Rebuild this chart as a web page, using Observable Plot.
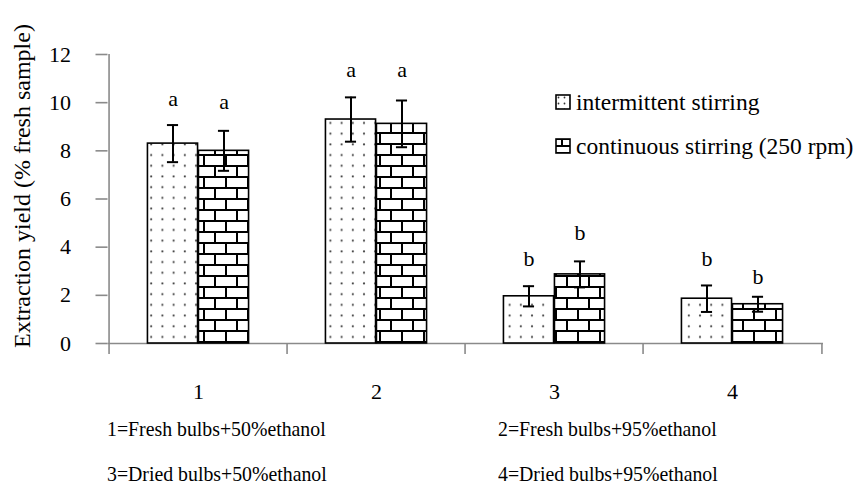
<!DOCTYPE html>
<html>
<head>
<meta charset="utf-8">
<script src="https://cdn.jsdelivr.net/npm/d3@7"></script>
<script src="https://cdn.jsdelivr.net/npm/@observablehq/plot@0.6"></script>
<style>
  body { margin: 0; background: #fff; }
  #wrap { position: relative; width: 862px; height: 487px; font-family: 'Liberation Serif', serif; color: #000; overflow: hidden; }
  #wrap > svg { position: absolute; left: 0; top: 0; }
  .abs { position: absolute; white-space: nowrap; font-family: 'Liberation Serif', serif; font-size: 22px; line-height: 20px; }
  .legend-item { position: absolute; display: flex; align-items: center; font-family: 'Liberation Serif', serif; font-size: 23.5px; white-space: nowrap; }
  .legend-item svg { display: block; margin-right: 5px; }
</style>
</head>
<body>
<div id="wrap"></div>
<script>
// ---- data ----
const categories = ["1", "2", "3", "4"];
const seriesNames = ["intermittent stirring", "continuous stirring (250 rpm)"];
const intermittent = [8.3, 9.3, 1.96, 1.86];
const intermittentErr = [0.77, 0.92, 0.42, 0.55];
const continuous = [8.0, 9.12, 2.87, 1.63];
const continuousErr = [0.83, 0.97, 0.54, 0.31];
const intermittentLetters = ["a", "a", "b", "b"];
const continuousLetters = ["a", "a", "b", "b"];
const intermittentLetterY = [10.17, 11.34, 3.53, 3.53];
const continuousLetterY = [10.05, 11.34, 4.61, 2.78];
const yTicks = [0, 2, 4, 6, 8, 10, 12];
const yLabel = "Extraction yield (% fresh sample)";
const captions = ["1=Fresh bulbs+50%ethanol", "2=Fresh bulbs+95%ethanol", "3=Dried bulbs+50%ethanol", "4=Dried bulbs+95%ethanol"];

// ---- layout ----
const W = 862, H = 487;
const mL = 107.5, mR = 39, mT = 54, mB = 144;
const band = (W - mL - mR) / categories.length;
const barW = 51;
const groupPad = (band - 2 * barW) / 2;
const capHalf = 6;
const font = "'Liberation Serif', serif";
const gray = "#8a8a8a";

const rowsI = categories.map((c, i) => ({cat: c, value: intermittent[i], err: intermittentErr[i], letter: intermittentLetters[i], ly: intermittentLetterY[i]}));
const rowsC = categories.map((c, i) => ({cat: c, value: continuous[i], err: continuousErr[i], letter: continuousLetters[i], ly: continuousLetterY[i]}));
const capsOf = rows => rows.flatMap(d => [{cat: d.cat, y: d.value - d.err}, {cat: d.cat, y: d.value + d.err}]);

const offI = groupPad + barW / 2 - band / 2;
const offC = groupPad + barW * 1.5 - band / 2;

const chart = Plot.plot({
  width: W, height: H,
  marginLeft: mL, marginRight: mR, marginTop: mT, marginBottom: mB,
  style: {fontFamily: font, fontSize: "22px", background: "transparent"},
  x: {domain: categories, padding: 0, axis: null},
  y: {domain: [0, 12], axis: null},
  marks: [
    Plot.ruleY([0], {stroke: gray, strokeWidth: 1.6}),
    Plot.ruleX(categories, {x: d => d, dx: -band / 2, y1: -0.46, y2: (d, i) => i === 0 ? 12 : 0, stroke: gray, strokeWidth: 1.6}),
    Plot.ruleX(categories.slice(-1), {x: d => d, dx: band / 2, y1: -0.46, y2: 0, stroke: gray, strokeWidth: 1.6}),
    Plot.axisY({ticks: yTicks, tickSize: 12, tickPadding: 25, stroke: gray, strokeWidth: 1.6, fill: "black", fontSize: 22, fontFamily: font, label: null}),
    Plot.axisX({tickSize: 0, tickPadding: 40, fill: "black", fontSize: 22, fontFamily: font, label: null}),
    Plot.barY(rowsI, {x: "cat", y: "value", fill: "url(#dotsPat)", stroke: "black", strokeWidth: 1.6,
      insetLeft: groupPad, insetRight: band - groupPad - barW}),
    Plot.barY(rowsC, {x: "cat", y: "value", fill: "url(#brickPat)", stroke: "black", strokeWidth: 1.6,
      insetLeft: groupPad + barW, insetRight: groupPad}),
    Plot.ruleX(rowsI, {x: "cat", dx: offI, y1: d => d.value - d.err, y2: d => d.value + d.err, stroke: "black", strokeWidth: 2}),
    Plot.ruleX(rowsC, {x: "cat", dx: offC, y1: d => d.value - d.err, y2: d => d.value + d.err, stroke: "black", strokeWidth: 2}),
    Plot.tickY(capsOf(rowsI), {x: "cat", y: "y", stroke: "black", strokeWidth: 2,
      insetLeft: band / 2 + offI - capHalf, insetRight: band / 2 - offI - capHalf}),
    Plot.tickY(capsOf(rowsC), {x: "cat", y: "y", stroke: "black", strokeWidth: 2,
      insetLeft: band / 2 + offC - capHalf, insetRight: band / 2 - offC - capHalf}),
    Plot.text(rowsI, {x: "cat", y: "ly", text: "letter", dx: offI, fontSize: 22, fontFamily: font, fill: "black"}),
    Plot.text(rowsC, {x: "cat", y: "ly", text: "letter", dx: offC, fontSize: 22, fontFamily: font, fill: "black"})
  ]
});

const defs = `
<pattern id="dotsPat" patternUnits="userSpaceOnUse" width="11.2" height="10.7">
  <rect width="11.2" height="10.7" fill="white"/>
  <circle cx="5.6" cy="5.3" r="1.05" fill="#444"/>
</pattern>
<pattern id="brickPat" patternUnits="userSpaceOnUse" width="22" height="22">
  <rect width="22" height="22" fill="white"/>
  <line x1="0" y1="1" x2="22" y2="1" stroke="black" stroke-width="2"/>
  <line x1="0" y1="12" x2="22" y2="12" stroke="black" stroke-width="2"/>
  <line x1="6" y1="1" x2="6" y2="12" stroke="black" stroke-width="2"/>
  <line x1="17" y1="12" x2="17" y2="23" stroke="black" stroke-width="2"/>
</pattern>`;
d3.select(chart).insert("defs", ":first-child").html(defs);

const wrap = document.getElementById("wrap");
wrap.appendChild(chart);

// y label
const yl = document.createElement("div");
yl.className = "abs";
yl.textContent = yLabel;
yl.style.fontSize = "24px";
yl.style.left = "22px";
yl.style.top = "186px";
yl.style.transform = "translate(-50%, -50%) rotate(-90deg)";
wrap.appendChild(yl);

// legend
const swatch = (id) => `<svg width="16" height="16"><defs>${id === "dotsPat" ?
  '<pattern id="lgDots" patternUnits="userSpaceOnUse" width="6" height="6"><rect width="6" height="6" fill="white"/><circle cx="3.5" cy="3.5" r="0.9" fill="#333"/></pattern>' :
  '<pattern id="lgBrick" patternUnits="userSpaceOnUse" width="14" height="14"><rect width="14" height="14" fill="white"/><line x1="0" y1="1" x2="14" y2="1" stroke="black" stroke-width="2"/><line x1="0" y1="8" x2="14" y2="8" stroke="black" stroke-width="2"/><line x1="7" y1="1" x2="7" y2="8" stroke="black" stroke-width="2"/></pattern>'}</defs>
  <rect x="1" y="1" width="14" height="14" fill="${id === "dotsPat" ? "url(#lgDots)" : "url(#lgBrick)"}" stroke="black" stroke-width="1.6"/></svg>`;
[["dotsPat", 102], ["brickPat", 146]].forEach(([id, cy], i) => {
  const item = document.createElement("div");
  item.className = "legend-item";
  item.style.left = "555px";
  item.style.top = (cy - 12) + "px";
  item.style.height = "24px";
  item.innerHTML = swatch(id) + `<span>${seriesNames[i]}</span>`;
  wrap.appendChild(item);
});

// captions (baseline positions)
const capPos = [[107, 435], [498, 435], [107, 480], [498, 480]];
captions.forEach((t, i) => {
  const c = document.createElement("div");
  c.className = "abs";
  c.textContent = t;
  c.style.left = capPos[i][0] + "px";
  c.style.top = (capPos[i][1] - 16) + "px";
  c.style.transformOrigin = "0 50%";
  c.style.transform = "scaleX(0.9)";
  wrap.appendChild(c);
});
</script>
</body>
</html>
